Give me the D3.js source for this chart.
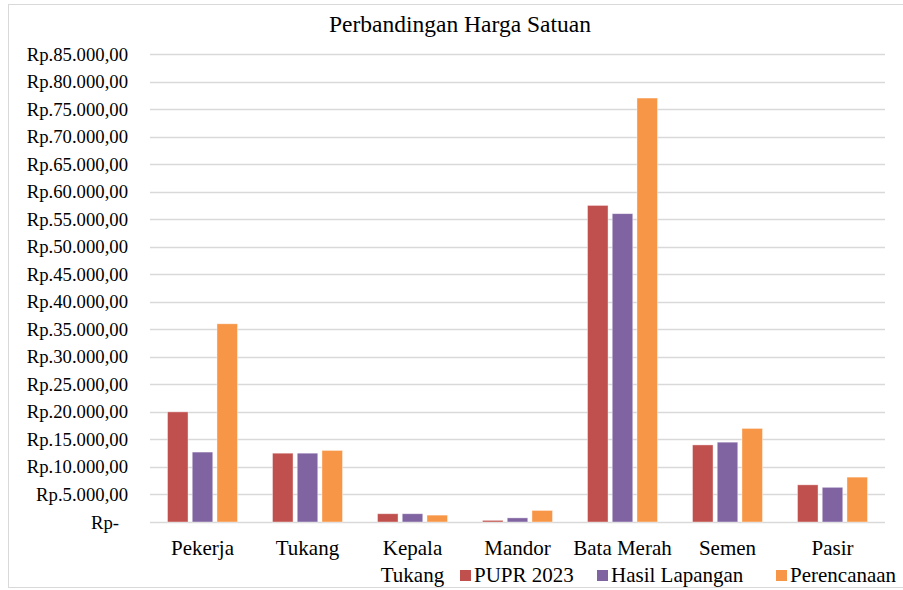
<!DOCTYPE html>
<html>
<head>
<meta charset="utf-8">
<script src="https://cdn.jsdelivr.net/npm/d3@7"></script>
<style>
  body { margin: 0; background: #fff; }
  svg text { font-family: 'Liberation Serif', 'Times New Roman', serif; fill: #000; }
</style>
</head>
<body>
<svg id="chart" width="903" height="590"></svg>
<script>
// data
const categories = ['Pekerja', 'Tukang', 'Kepala Tukang', 'Mandor', 'Bata Merah', 'Semen', 'Pasir'];
const seriesNames = ['PUPR 2023', 'Hasil Lapangan', 'Perencanaan'];
const pupr = [20000, 12500, 1500, 300, 57500, 14000, 6750];
const hasil = [12700, 12500, 1500, 750, 56000, 14500, 6300];
const perencanaan = [36000, 13000, 1250, 2100, 77000, 17000, 8150];
const yTicks = d3.range(0, 85001, 5000);
const colors = ['#C0504D', '#8064A2', '#F79646'];

const svg = d3.select('#chart');
const margin = { left: 150, right: 18, top: 54, bottom: 68 };
const width = 903, height = 590;

// outer frame
svg.append('rect')
  .attr('x', 8.5).attr('y', 4.5)
  .attr('width', 903).attr('height', 583)
  .attr('fill', 'none').attr('stroke', '#d9d9d9');

svg.append('text')
  .attr('x', 460).attr('y', 32)
  .attr('text-anchor', 'middle')
  .style('font-size', '23.5px')
  .text('Perbandingan Harga Satuan');

const x = d3.scaleBand()
  .domain(categories)
  .range([margin.left, width - margin.right]);

const x1 = d3.scaleBand()
  .domain(seriesNames)
  .range([0, 70])
  .paddingInner(0.17);

const y = d3.scaleLinear()
  .domain([0, 85000])
  .range([height - margin.bottom, margin.top]);

const fmt = v => v === 0 ? 'Rp-' : 'Rp.' + d3.format(',')(v).replace(/,/g, '.') + ',00';

// gridlines
svg.append('g')
  .selectAll('line')
  .data(yTicks)
  .join('line')
  .attr('x1', margin.left).attr('x2', width - margin.right)
  .attr('y1', d => Math.round(y(d)) + 0.5).attr('y2', d => Math.round(y(d)) + 0.5)
  .attr('stroke', '#d9d9d9')
  .attr('stroke-width', 1.3);

// y labels
svg.append('g')
  .selectAll('text')
  .data(yTicks)
  .join('text')
  .attr('x', d => d === 0 ? 119 : 128)
  .attr('y', d => y(d) + 6.5)
  .attr('text-anchor', 'end')
  .style('font-size', '18.7px')
  .text(fmt);

const table = categories.map((c, i) => ({
  cat: c,
  vals: [pupr[i], hasil[i], perencanaan[i]]
}));

const groupOffset = (x.bandwidth() - 70) / 2;

svg.append('g')
  .selectAll('g')
  .data(table)
  .join('g')
  .attr('transform', d => `translate(${x(d.cat) + groupOffset},0)`)
  .selectAll('rect')
  .data(d => d.vals.map((v, j) => ({ name: seriesNames[j], v, j })))
  .join('rect')
  .attr('x', d => x1(d.name))
  .attr('width', x1.bandwidth())
  .attr('y', d => y(d.v))
  .attr('height', d => y(0) - y(d.v))
  .attr('fill', d => colors[d.j])
  .attr('stroke', '#fff')
  .attr('stroke-opacity', 0.5)
  .attr('stroke-width', 0.8);

// category labels
const catLabels = svg.append('g')
  .selectAll('text')
  .data(categories)
  .join('text')
  .attr('x', d => x(d) + x.bandwidth() / 2)
  .attr('y', 555)
  .attr('text-anchor', 'middle')
  .style('font-size', '21px');

catLabels.each(function(d) {
  const t = d3.select(this);
  if (d === 'Kepala Tukang') {
    t.append('tspan').attr('x', x(d) + x.bandwidth() / 2).text('Kepala');
    t.append('tspan').attr('x', x(d) + x.bandwidth() / 2).attr('dy', 27).text('Tukang');
  } else {
    t.text(d);
  }
});

// legend
const legendX = [460, 597, 776];
const legend = svg.append('g')
  .selectAll('g')
  .data(seriesNames)
  .join('g')
  .attr('transform', (d, i) => `translate(${legendX[i]},570)`);

legend.append('rect')
  .attr('width', 11).attr('height', 11)
  .attr('fill', (d, i) => colors[i]);

legend.append('text')
  .attr('x', 14).attr('y', 12)
  .style('font-size', '21px')
  .text(d => d);
</script>
</body>
</html>
